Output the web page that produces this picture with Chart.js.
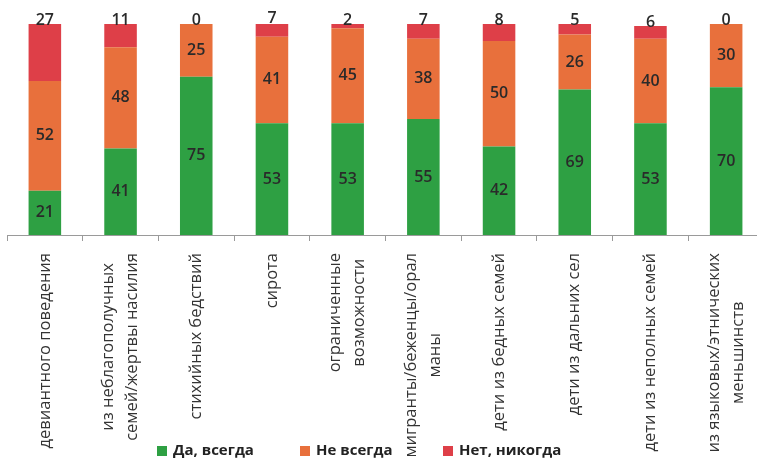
<!DOCTYPE html>
<html><head><meta charset="utf-8">
<script src="https://cdn.jsdelivr.net/npm/chart.js@4"></script>
<style>
html,body{margin:0;padding:0;background:#fff;overflow:hidden;}
#wrap{position:relative;width:766px;height:463px;}
</style></head>
<body>
<div id="wrap"><canvas id="c"></canvas></div>
<script>
const categories = [
  'девиантного поведения',
  ['из неблагополучных', 'семей/жертвы насилия'],
  'стихийных бедствий',
  'сирота',
  ['ограниченные', 'возможности'],
  ['мигранты/беженцы/орал', 'маны'],
  'дети из бедных семей',
  'дети из дальних сел',
  'дети из неполных семей',
  ['из языковых/этнических', 'меньшинств']
];
const seriesNames = ['Да, всегда', 'Не всегда', 'Нет, никогда'];
const yesAlways = [21, 41, 75, 53, 53, 55, 42, 69, 53, 70];
const notAlways = [52, 48, 25, 41, 45, 38, 50, 26, 40, 30];
const never = [27, 11, 0, 7, 2, 7, 8, 5, 6, 0];
const colors = ['#2ea043', '#e8703c', '#de3f48'];

const valueLabels = {
  id: 'valueLabels',
  afterDatasetsDraw(chart) {
    const ctx = chart.ctx;
    ctx.save();
    ctx.font = '600 16px "Open Sans", sans-serif';
    ctx.fillStyle = '#2a2a2a';
    ctx.textAlign = 'center';
    chart.data.datasets.forEach((ds, di) => {
      const meta = chart.getDatasetMeta(di);
      meta.data.forEach((el, i) => {
        const v = ds.data[i];
        if (di === 2) {
          ctx.textBaseline = 'alphabetic';
          ctx.fillText(String(v), el.x, el.y + 1);
        } else {
          ctx.textBaseline = 'middle';
          ctx.fillText(String(v), el.x, (el.y + el.base) / 2);
        }
      });
    });
    ctx.restore();
  }
};

// Center multi-line category labels around their tick (as in the original)
const centerMultiline = {
  id: 'centerMultiline',
  beforeDraw(chart) {
    const s = chart.scales.x;
    const ctx = chart.ctx;
    const items = s.getLabelItems(chart.chartArea);
    items.forEach(it => {
      if (Array.isArray(it.label) && !it._centered) {
        const lh = it.font.lineHeight;
        ctx.save();
        ctx.font = it.font.string;
        const maxW = Math.max(...it.label.map(t => ctx.measureText(t).width));
        ctx.restore();
        it.options.translation = [
          it.options.translation[0] - (it.label.length - 1) * lh / 2,
          it.options.translation[1] + maxW / 2
        ];
        it.options.textAlign = 'center';
        it._centered = true;
      }
    });
  }
};

const bottomLegend = {
  id: 'bottomLegend',
  afterDraw(chart) {
    const ctx = chart.ctx;
    ctx.save();
    ctx.font = 'bold 15px "Open Sans", sans-serif';
    ctx.textBaseline = 'middle';
    ctx.textAlign = 'left';
    const starts = [157, 300, 443];
    chart.data.datasets.forEach((ds, i) => {
      const x = starts[i], y = 451;
      ctx.fillStyle = ds.backgroundColor;
      ctx.fillRect(x, y - 5, 10, 10);
      ctx.fillStyle = '#222';
      ctx.fillText(ds.label, x + 16, y);
    });
    ctx.restore();
  }
};

new Chart(document.getElementById('c'), {
  type: 'bar',
  data: {
    labels: categories,
    datasets: [
      { label: seriesNames[0], data: yesAlways, backgroundColor: colors[0] },
      { label: seriesNames[1], data: notAlways, backgroundColor: colors[1] },
      { label: seriesNames[2], data: never, backgroundColor: colors[2] }
    ]
  },
  options: {
    responsive: true,
    maintainAspectRatio: false,
    animation: false,
    devicePixelRatio: 1,
    layout: { padding: { left: 7, right: 2, top: 24, bottom: 0 } },
    datasets: { bar: { categoryPercentage: 1, barPercentage: 0.43, borderWidth: 0 } },
    plugins: { legend: { display: false }, tooltip: { enabled: false } },
    scales: {
      x: {
        stacked: true,
        border: { display: true, color: '#9a9a9a', width: 1 },
        grid: { display: true, drawOnChartArea: false, drawTicks: true, tickLength: 6, color: '#9a9a9a', offset: true },
        ticks: {
          minRotation: 90, maxRotation: 90, autoSkip: false, padding: 12,
          color: '#333', font: { family: '"Open Sans", sans-serif', size: 16.5, lineHeight: 1.45 }
        },
        afterFit(scale) { scale.height = 228; scale.paddingLeft = 0; scale.paddingRight = 0; }
      },
      y: { stacked: true, display: false, min: 0, max: 100 }
    }
  },
  plugins: [centerMultiline, valueLabels, bottomLegend]
});
</script>
</body></html>
